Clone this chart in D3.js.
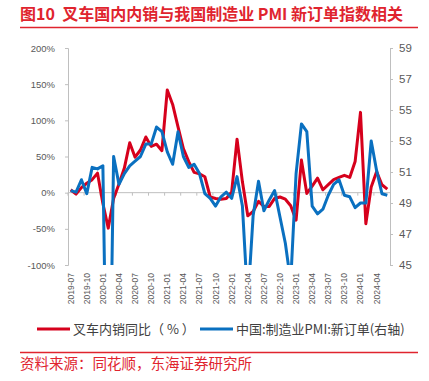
<!DOCTYPE html>
<html>
<head>
<meta charset="utf-8">
<script src="https://cdn.jsdelivr.net/npm/d3@7"></script>
<style>
  body { margin: 0; background: #fff; }
  svg { display: block; }
  .pre { white-space: pre; }
</style>
</head>
<body>
<div id="chart"></div>
<script>
// months 2019-07 .. 2024-06
var months = [
  "2019-07","2019-08","2019-09","2019-10","2019-11","2019-12",
  "2020-01","2020-02","2020-03","2020-04","2020-05","2020-06","2020-07","2020-08","2020-09","2020-10","2020-11","2020-12",
  "2021-01","2021-02","2021-03","2021-04","2021-05","2021-06","2021-07","2021-08","2021-09","2021-10","2021-11","2021-12",
  "2022-01","2022-02","2022-03","2022-04","2022-05","2022-06","2022-07","2022-08","2022-09","2022-10","2022-11","2022-12",
  "2023-01","2023-02","2023-03","2023-04","2023-05","2023-06","2023-07","2023-08","2023-09","2023-10","2023-11","2023-12",
  "2024-01","2024-02","2024-03","2024-04","2024-05","2024-06"
];

// 叉车内销同比 (%)
var forkliftYoY = [
  4, -2, 7, 13, 18, 27,
  -15, -49, -8, 12, 34, 69, 49, 59, 77, 64, 67, 58,
  142, 122, 91, 61, 43, 28, 26, 22, -6, -8, -9, -8,
  1, 74, 15, -32, -26, -12, -19, -19, -8, -6, -9, -18,
  -38, 45, -1, 9, 20, 4, 11, 18, 21, 24, 21, 43,
  111, -43, 8, 29, 11, 5
];

// 中国:制造业PMI:新订单 (右轴)
var pmiNewOrders = [
  49.8, 49.7, 50.5, 49.6, 51.3, 51.2,
  51.4, 29.3, 52.0, 50.2, 50.9, 51.4, 51.7, 52.0, 52.8, 52.8, 53.9, 53.6,
  52.3, 51.5, 53.6, 52.0, 51.3, 51.5, 50.9, 49.6, 49.3, 48.8, 49.4, 49.7,
  49.3, 50.7, 48.8, 42.6, 48.2, 50.4, 48.5, 49.2, 49.8, 48.1, 46.4, 43.9,
  50.9, 54.1, 53.6, 48.8, 48.3, 48.6, 49.5, 50.2, 50.5, 49.5, 49.4, 48.7,
  49.0, 49.0, 53.0, 51.1, 49.6, 49.5
];

var leftTicks = [-100, -50, 0, 50, 100, 150, 200];
var rightTicks = [45, 47, 49, 51, 53, 55, 57, 59];

var svgWidth = 429;
var svgHeight = 381;
var plot = { left: 68, right: 390, top: 48, bottom: 265 };

var red = "#d6001c";
var blue = "#0a70c0";
var titleRed = "#e0242e";
var gray = "#595959";
var axisGray = "#bfbfbf";

var svg = d3.select("#chart")
  .append("svg")
  .attr("width", svgWidth)
  .attr("height", svgHeight);

// title
svg.append("text")
  .attr("class", "pre")
  .attr("x", 20)
  .attr("y", 20)
  .attr("fill", titleRed)
  .attr("font-family", "'Noto Sans CJK SC', sans-serif")
  .attr("font-weight", "bold")
  .attr("font-size", "16px")
  .text("图10  叉车国内内销与我国制造业 PMI 新订单指数相关");

svg.append("line")
  .attr("x1", 20).attr("x2", 418)
  .attr("y1", 27.5).attr("y2", 27.5)
  .attr("stroke", titleRed)
  .attr("stroke-width", 1.5);

var x = d3.scaleBand()
  .domain(months)
  .range([plot.left, plot.right]);

var yLeft = d3.scaleLinear()
  .domain([-100, 200])
  .range([plot.bottom, plot.top]);

var yRight = d3.scaleLinear()
  .domain([45, 59])
  .range([plot.bottom, plot.top]);

// left axis
var leftAxis = d3.axisLeft(yLeft)
  .tickValues(leftTicks)
  .tickSize(3)
  .tickPadding(10)
  .tickFormat(d => d + "%");

var gl = svg.append("g")
  .attr("transform", `translate(${plot.left},0)`)
  .call(leftAxis);
gl.select(".domain").attr("stroke", axisGray);
gl.selectAll(".tick line").attr("stroke", axisGray);
gl.selectAll(".tick text")
  .attr("fill", gray)
  .attr("font-family", "'Liberation Sans', Arial, sans-serif")
  .attr("font-size", "9.5px");

// right axis
var rightAxis = d3.axisRight(yRight)
  .tickValues(rightTicks)
  .tickSize(3)
  .tickPadding(6);

var gr = svg.append("g")
  .attr("transform", `translate(${plot.right},0)`)
  .call(rightAxis);
gr.select(".domain").attr("stroke", axisGray);
gr.selectAll(".tick line").attr("stroke", axisGray);
gr.selectAll(".tick text")
  .attr("fill", gray)
  .attr("font-family", "'Liberation Sans', Arial, sans-serif")
  .attr("font-size", "11.5px");

// category axis sitting on the 0% line
var y0 = yLeft(0);
svg.append("line")
  .attr("x1", plot.left).attr("x2", plot.right)
  .attr("y1", y0).attr("y2", y0)
  .attr("stroke", axisGray)
  .attr("stroke-width", 1);

var labelled = months.filter((m, i) => i % 3 === 0);

svg.selectAll(".xtick")
  .data(labelled)
  .enter()
  .append("line")
  .attr("class", "xtick")
  .attr("x1", d => x(d)).attr("x2", d => x(d))
  .attr("y1", y0).attr("y2", y0 + 3)
  .attr("stroke", axisGray);

svg.selectAll(".xlabel")
  .data(labelled)
  .enter()
  .append("text")
  .attr("class", "xlabel")
  .attr("transform", d => `translate(${x(d) + x.bandwidth() / 2 + 3},${plot.bottom + 8}) rotate(-90)`)
  .attr("text-anchor", "end")
  .attr("fill", gray)
  .attr("font-family", "'Liberation Sans', Arial, sans-serif")
  .attr("font-size", "8.5px")
  .text(d => d);

// lines, clipped to the plot
svg.append("clipPath")
  .attr("id", "plotClip")
  .append("rect")
  .attr("x", plot.left)
  .attr("y", plot.top - 5)
  .attr("width", plot.right - plot.left)
  .attr("height", plot.bottom - plot.top + 5);

var cx = (d, i) => x(months[i]) + x.bandwidth() / 2;

var redLine = d3.line()
  .x(cx)
  .y(d => yLeft(d));

var blueLine = d3.line()
  .x(cx)
  .y(d => yRight(d));

var lines = svg.append("g").attr("clip-path", "url(#plotClip)");

lines.append("path")
  .datum(forkliftYoY)
  .attr("d", redLine)
  .attr("fill", "none")
  .attr("stroke", red)
  .attr("stroke-width", 3)
  .attr("stroke-linejoin", "round");

lines.append("path")
  .datum(pmiNewOrders)
  .attr("d", blueLine)
  .attr("fill", "none")
  .attr("stroke", blue)
  .attr("stroke-width", 3)
  .attr("stroke-linejoin", "round");

// legend
var legend = [
  { name: "叉车内销同比（ % ）", color: red, x: 37 },
  { name: "中国:制造业PMI:新订单(右轴)", color: blue, x: 200 }
];

var lg = svg.selectAll(".legend")
  .data(legend)
  .enter()
  .append("g")
  .attr("class", "legend")
  .attr("transform", d => `translate(${d.x},329)`);

lg.append("line")
  .attr("x1", 0).attr("x2", 33)
  .attr("stroke", d => d.color)
  .attr("stroke-width", 3);

lg.append("text")
  .attr("x", 36)
  .attr("y", 4.5)
  .attr("fill", "#404040")
  .attr("font-family", "'Noto Sans CJK SC', sans-serif")
  .attr("font-size", "13px")
  .text(d => d.name);

// source
svg.append("line")
  .attr("x1", 20).attr("x2", 418)
  .attr("y1", 352.5).attr("y2", 352.5)
  .attr("stroke", titleRed)
  .attr("stroke-width", 1.5);

svg.append("text")
  .attr("x", 20)
  .attr("y", 369)
  .attr("fill", titleRed)
  .attr("font-family", "'Noto Sans CJK SC', sans-serif")
  .attr("font-size", "14.5px")
  .text("资料来源：同花顺，东海证券研究所");
</script>
</body>
</html>
